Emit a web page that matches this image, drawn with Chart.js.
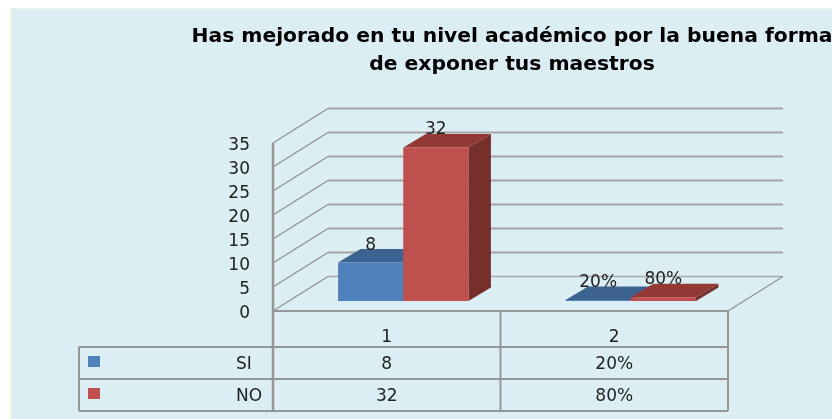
<!DOCTYPE html>
<html>
<head>
<meta charset="utf-8">
<title>Nivel académico</title>
<script src="https://cdn.jsdelivr.net/npm/chart.js@4"></script>
<style>
  html, body { margin: 0; padding: 0; background: #fff; overflow: hidden; }
  #bg { position: absolute; left: 10px; top: 8px; width: 822px; height: 411px; background: #dbeef4; border-left: 2px solid #f1f4e2; border-top: 1px solid #f1f4e2; box-sizing: border-box; }
  #wrap { position: absolute; left: 0; top: 0; width: 832px; height: 419px; filter: blur(0.5px); }
</style>
</head>
<body>
<div id="bg"></div>
<div id="wrap"><canvas id="chart" width="832" height="419"></canvas></div>
<script>
const titleLines = ['Has mejorado en tu nivel académico por la buena forma', 'de exponer tus maestros'];
const categories = ['1', '2'];
const seriesNames = ['SI', 'NO'];
const siValues = [8, 0.2];
const noValues = [32, 0.8];
const siLabels = ['8', '20%'];
const noLabels = ['32', '80%'];

const FONT = '"DejaVu Sans"';
const TEXT = '#222';
const LINE = '#969696';
const colors = [
  { front: '#4f81bd', top: '#3d6390', side: '#2f4f75' },
  { front: '#c0504d', top: '#933a37', side: '#772f2c' },
];
const cellLabels = [siLabels, noLabels];

function line(ctx, x1, y1, x2, y2, width, color) {
  ctx.beginPath();
  ctx.moveTo(x1, y1);
  ctx.lineTo(x2, y2);
  ctx.lineWidth = width;
  ctx.strokeStyle = color;
  ctx.stroke();
}

function face(ctx, pts, color) {
  ctx.beginPath();
  pts.forEach((p, i) => (i ? ctx.lineTo(p[0], p[1]) : ctx.moveTo(p[0], p[1])));
  ctx.closePath();
  ctx.fillStyle = color;
  ctx.fill();
}

// digits sit a little low in the original, so use the baseline and not "middle"
function label(ctx, str, x, cy) {
  ctx.textBaseline = 'alphabetic';
  ctx.fillText(str, x, cy + 6);
}

// back wall, side wall and floor, from the y scale
const wallPlugin = {
  id: 'wall',
  beforeDatasetsDraw(chart) {
    const { ctx, scales, chartArea } = chart;
    const dx = 55, dy = 34.5;
    const left = chartArea.left, right = chartArea.right;
    ctx.save();
    ctx.font = '17px ' + FONT;
    ctx.textAlign = 'right';
    ctx.fillStyle = TEXT;
    scales.y.ticks.forEach((t) => {
      const y = scales.y.getPixelForValue(t.value);
      line(ctx, left, y, left + dx, y - dy, 1.2, '#8f8f8f');
      line(ctx, left + dx, y - dy, right + dx, y - dy, t.value === 0 ? 1.5 : 2, '#a6a6a6');
      label(ctx, t.label, 250, y + 1);
    });
    const y0 = scales.y.getPixelForValue(0);
    line(ctx, right, y0, right + dx, y0 - dy, 1.2, '#8f8f8f');
    ctx.restore();
  },
};

// bars sit a bit back on the floor, with top and side faces.
// chart.js paints the last dataset first, we need SI first so NO covers its faces
const barsPlugin = {
  id: 'bars3d',
  beforeDatasetDraw() {
    return false;
  },
  afterDatasetsDraw(chart) {
    const { ctx } = chart;
    const ox = 16.5, oy = -10, dx = 22.5, dy = -13.5;
    ctx.save();
    ctx.translate(ox, oy);
    seriesNames.forEach((name, s) => {
      const c = colors[s];
      chart.getDatasetMeta(s).data.forEach((bar) => {
        const l = bar.x - bar.width / 2, r = bar.x + bar.width / 2;
        face(ctx, [[l, bar.y], [r, bar.y], [r + dx, bar.y + dy], [l + dx, bar.y + dy]], c.top);
        face(ctx, [[r, bar.y], [r, bar.base], [r + dx, bar.base + dy], [r + dx, bar.y + dy]], c.side);
        bar.draw(ctx);
      });
    });
    ctx.restore();
  },
};

// title, data labels and the table under the plot
const tablePlugin = {
  id: 'dataTable',
  afterDraw(chart) {
    const { ctx, scales, chartArea } = chart;
    const left = chartArea.left, right = chartArea.right, y0 = chartArea.bottom;
    const legendLeft = 79;
    const rows = [347, 379, 411];
    ctx.save();

    ctx.font = 'bold 20.3px ' + FONT;
    ctx.fillStyle = '#000';
    ctx.textAlign = 'center';
    ctx.textBaseline = 'middle';
    titleLines.forEach((t, i) => ctx.fillText(t, 512, 37 + i * 28));

    line(ctx, left, y0, right, y0, 2, LINE);
    rows.forEach((y) => line(ctx, legendLeft, y, right, y, 2, LINE));
    line(ctx, left, chartArea.top, left, rows[2], 2.5, LINE);
    line(ctx, right, y0, right, rows[2], 2, LINE);
    line(ctx, legendLeft, rows[0], legendLeft, rows[2], 2, LINE);
    const mid = (scales.x.getPixelForValue(0) + scales.x.getPixelForValue(1)) / 2;
    line(ctx, mid, y0, mid, rows[2], 2, LINE);

    ctx.font = '17px ' + FONT;
    seriesNames.forEach((name, s) => {
      const cy = (rows[s] + rows[s + 1]) / 2;
      ctx.fillStyle = colors[s].front;
      ctx.fillRect(88, cy - 7, 12, 11);
      ctx.fillStyle = TEXT;
      ctx.textAlign = 'left';
      label(ctx, name, 236, cy);
      ctx.textAlign = 'center';
      categories.forEach((c, i) => {
        label(ctx, cellLabels[s][i], scales.x.getPixelForValue(i), cy);
        const bar = chart.getDatasetMeta(s).data[i];
        label(ctx, cellLabels[s][i], bar.x + 16.5, bar.y - 29);
      });
    });
    ctx.restore();
  },
};

new Chart(document.getElementById('chart'), {
  type: 'bar',
  data: {
    labels: categories,
    datasets: [
      { label: seriesNames[0], data: siValues, backgroundColor: colors[0].front },
      { label: seriesNames[1], data: noValues, backgroundColor: colors[1].front },
    ],
  },
  options: {
    responsive: false,
    animation: false,
    layout: { padding: { top: 143, right: 104, left: 0, bottom: 0 } },
    datasets: { bar: { barPercentage: 1, categoryPercentage: 0.573 } },
    plugins: { legend: { display: false }, tooltip: { enabled: false }, title: { display: false } },
    scales: {
      x: {
        afterFit: (s) => { s.height = 108; },
        grid: { display: false, drawTicks: false },
        border: { display: false },
        ticks: { padding: 16, color: TEXT, font: { family: FONT, size: 17 }, maxRotation: 0 },
      },
      y: {
        min: 0,
        max: 35,
        afterFit: (s) => { s.width = 273; },
        grid: { display: false, drawTicks: false },
        border: { display: false },
        ticks: { display: false, stepSize: 5 },
      },
    },
  },
  plugins: [wallPlugin, barsPlugin, tablePlugin],
});
</script>
</body>
</html>
